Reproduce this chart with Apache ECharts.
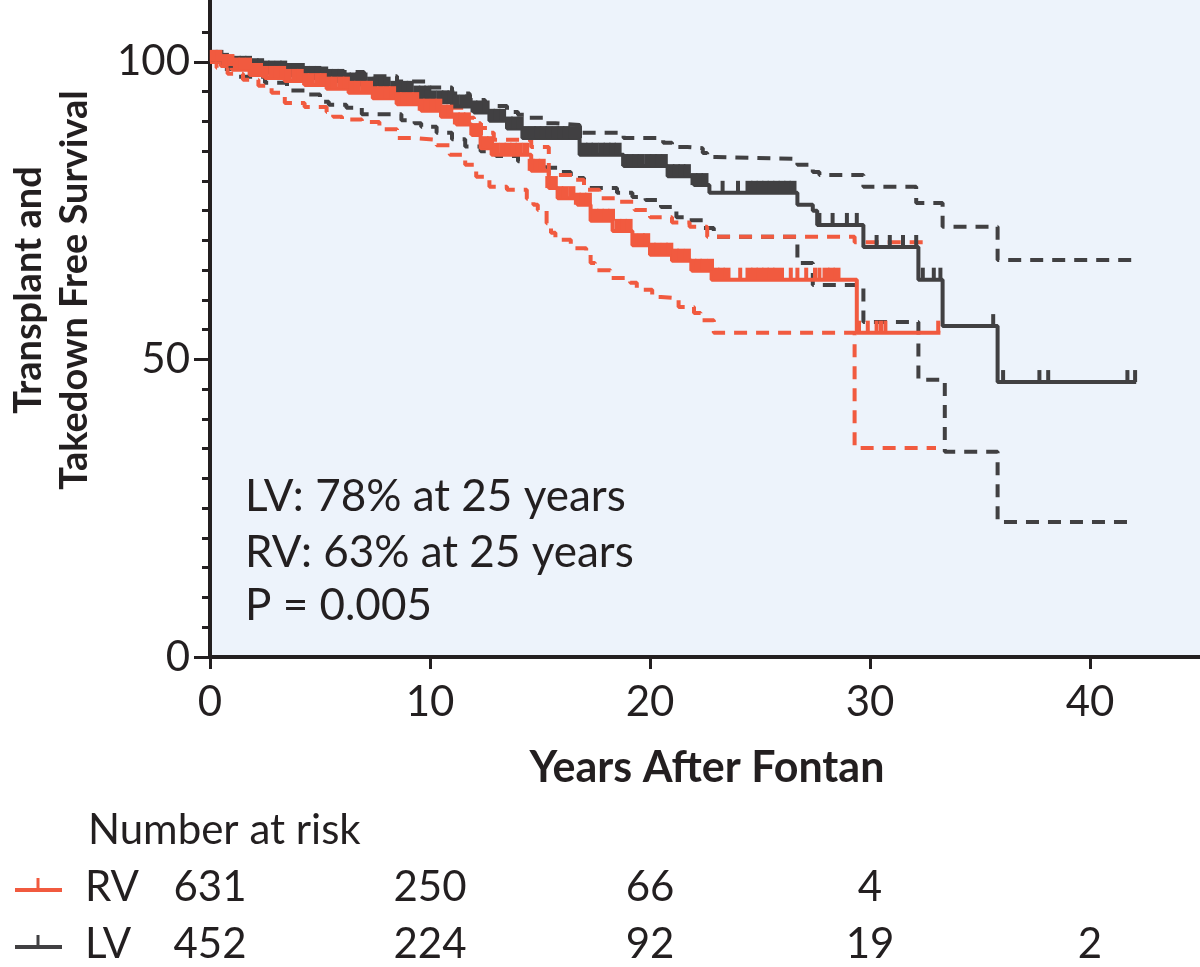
<!DOCTYPE html>
<html>
<head>
    <meta charset="utf-8">
    <title>Transplant and Takedown Free Survival</title>
    <style>
        html, body { margin: 0; padding: 0; background: #fff; }
        #container { width: 1200px; height: 967px; }
    </style>
</head>
<body>
<div id="container"></div>
<script src="https://cdn.jsdelivr.net/npm/echarts@6/dist/echarts.min.js"></script>
<script type="text/javascript">
    // ---- data: [years, survival %] step points ----
    var rvEst = [[0,100],[0.5,99.3],[1,98.7],[1.8,97.8],[2.5,97.3],[3.4,96.8],[4.3,96.1],[5.3,95.5],[6.3,94.8],[7.4,93.9],[8.5,92.9],[9.6,91.8],[10.5,90.8],[11.2,89.5],[11.9,87.7],[12.3,85.5],[12.8,84.4],[14.6,81.7],[15.4,78.8],[15.8,77.1],[16.7,76],[17.3,73.3],[18.3,71.6],[19.2,69.2],[20,67.6],[21,66.6],[21.9,64.9],[22.8,63.4],[29.4,54.5],[33.2,54.5]];
    var rvUpper = [[0,100],[1,99.6],[2,99.2],[3,98.7],[4,98.2],[5,97.7],[6,97.1],[7,96.4],[8,95.7],[9,94.9],[10,93.9],[11,92.3],[11.6,90.6],[12,89.7],[12.3,88.9],[12.6,88.1],[12.9,86.9],[14.6,85.7],[15.4,81],[16.5,80.2],[17,78.5],[17.7,77.1],[18.5,76.5],[19.3,75.1],[20,73.9],[21,73],[21.8,72.3],[22.6,70.6],[29.3,69.7],[32.6,69.7]];
    var rvLower = [[0,100],[0.3,99],[0.8,98],[1.5,97],[2.2,96],[2.8,94.8],[3.4,93.1],[4.3,92.4],[5.3,91.6],[5.6,90.8],[6,90.3],[6.9,89.9],[7.7,88.7],[8.5,87.2],[9.3,86.9],[10.3,86],[10.9,84.4],[11.6,82.7],[12.1,80.7],[12.7,79],[13.5,78.5],[14.4,77],[14.7,76],[14.9,75.1],[15.3,72.9],[15.5,71.3],[15.7,70.1],[16.4,68.7],[17.1,67.9],[17.3,66.2],[17.5,65],[18.2,63.7],[19.1,62.9],[19.4,61.7],[20.1,60.5],[20.5,60.3],[21.3,58.8],[22,57.8],[22.3,56.6],[22.9,54.5],[29.3,35.1],[33,35.1]];

    var lvEst = [[0,100],[0.5,99.5],[1,99],[1.8,98.6],[2.5,98.2],[3.5,97.8],[4.3,97.3],[5.2,96.8],[6.2,96.2],[7.2,95.5],[8.2,94.8],[9.2,94],[10,93.2],[11,92.5],[12,91.5],[12.7,90.1],[13.5,88.8],[14.2,87.2],[16.8,84.4],[18.8,82.5],[20.8,80.8],[22,79.3],[22.7,78],[26.7,76],[27.4,75],[27.6,72.6],[29.7,68.9],[32.2,63.4],[33.3,55.6],[35.8,46.2],[42.1,46.2]];
    var lvUpper = [[0,100],[1,99.7],[2.5,99.3],[4,98.9],[5.5,98.3],[7,97.6],[8.5,96.7],[10,95.7],[11,94.7],[11.8,93.6],[12.5,92.6],[13.5,91.6],[14,91.1],[14.4,90.6],[15.2,89.7],[15.7,89.4],[16.8,88.1],[18.8,87.2],[20.6,86.4],[21,85.7],[21.7,85.5],[22.4,84.7],[22.6,84],[23,83.7],[26.7,82.7],[27.4,81.5],[27.7,81],[29.7,79],[32.1,76.3],[33.3,72.3],[35.8,66.7],[42,66.7]];
    var lvLower = [[0,100],[0.5,98.8],[1.2,97.5],[2.5,96.5],[3.5,95.2],[4.5,94.5],[5,93.3],[5.4,92.8],[6.2,92.3],[6.9,91.2],[8.7,90.2],[9.3,89.7],[9.6,89.1],[10.3,88.1],[11,87],[11.6,85.8],[12.3,85],[13,84.2],[14,83.3],[15.3,82.2],[15.8,81.5],[16.4,80.5],[17,78.8],[18.5,78],[19.2,77.3],[19.8,76.8],[20.5,75.6],[21.2,73.9],[21.8,73.4],[22.4,72.1],[22.9,70.6],[26.7,66.2],[27.4,62.5],[29.7,56.3],[32.2,46.6],[33.4,34.5],[35.8,22.7],[42,22.7]];

    // censored observations (years)
    var rvCensorDense = [0.15,0.4,0.7,0.95,1.2,1.45,1.75,2.0,2.25,2.5,2.8,3.05,3.3,3.55,3.85,4.1,4.35,4.6,4.9,5.15,5.4,5.65,5.95,6.2,6.45,6.7,7.0,7.25,7.5,7.75,8.05,8.3,8.55,8.8,9.1,9.35,9.6,9.85,10.15,10.4,10.65,10.9,11.2,11.45,11.7,11.95,12.25,12.5,12.75,13.0,13.3,13.55,13.8,14.05,14.35,14.6,14.85,15.1,15.4,15.65,15.9,16.15,16.45,16.7,16.95,17.2,17.5,17.75,18.0,18.25,18.55,18.8,19.05,19.3,19.6,19.85,20.1,20.35,20.65,20.9,21.15,21.4,21.7,21.95,22.2,22.45,22.75,23.0,23.25,23.5,24.5,24.75,25.0,25.25,25.5,25.75,28.0,28.25,28.5];
    var rvCensor = [24.1,26.0,26.4,26.7,27.1,27.5,27.7,29.5,29.9,30.3,30.5,30.7,33.1];
    var lvCensorDense = [0.2,0.45,0.7,1.0,1.25,1.5,1.75,2.05,2.3,2.55,2.8,3.1,3.35,3.6,3.85,4.15,4.4,4.65,4.9,5.2,5.45,5.7,5.95,6.25,6.5,6.75,7.0,7.3,7.55,7.8,8.05,8.35,8.6,8.85,9.1,9.4,9.65,9.9,10.15,10.45,10.7,10.95,11.2,11.5,11.75,12.0,12.25,12.55,12.8,13.05,13.3,13.6,13.85,14.1,14.35,14.65,14.9,15.15,15.4,15.7,15.95,16.2,16.45,16.75,17.0,17.25,17.5,17.8,18.05,18.3,18.55,18.85,19.1,19.35,19.6,19.9,20.15,20.4,20.65,20.95,21.2,21.45,21.7,22.0,22.25,22.5,24.5,24.75,25.0,25.25,25.5,25.75,26.0,26.25,26.5];
    var lvCensor = [23.3,24.0,27.7,28.3,28.95,29.4,30.3,30.9,31.5,32.1,32.4,32.9,33.2,35.6,36.05,37.7,38.1,41.7,42.05];

    // numbers at risk
    var riskYears = [0, 10, 20, 30, 40];
    var rvRisk = [631, 250, 66, 4];
    var lvRisk = [452, 224, 92, 19, 2];

    // axis ticks
    var xTicks = [0, 10, 20, 30, 40];
    var yMajor = [0, 50, 100];
    var yMinor = [5, 10, 15, 20, 25, 30, 35, 40, 45, 55, 60, 65, 70, 75, 80, 85, 90, 95, 105];

    var RED = '#F15A3F';
    var GRAY = '#414042';
    var INK = '#231F20';
    var FONT = 'Lato, "Noto Sans", sans-serif';

    function stepAt(curve, t) {
        var v = curve[0][1];
        for (var i = 0; i < curve.length; i++) {
            if (curve[i][0] <= t) v = curve[i][1];
            else break;
        }
        return v;
    }
    function marks(curve, times) {
        return times.map(function (t) { return [t, stepAt(curve, t)]; });
    }
    function stepLine(data, color, dashed, width) {
        return {
            type: 'line', data: data, step: 'end', showSymbol: false, symbol: 'none',
            lineStyle: {color: color, width: width, type: dashed ? [13, 9] : 'solid'},
            silent: true, z: dashed ? 2 : 3
        };
    }
    function censorSeries(data, color, w) {
        return {
            type: 'scatter', data: data, symbol: 'rect', symbolSize: [w, 12],
            symbolOffset: [0, -6], itemStyle: {color: color, opacity: 1}, silent: true, z: 4
        };
    }

    var myChart = echarts.init(document.getElementById('container'));

    var option = {
        animation: false,
        grid: {
            left: 210, right: 0, top: 0, bottom: 310,
            show: true, backgroundColor: '#EDF3FB', borderWidth: 0
        },
        xAxis: {
            type: 'value', min: 0, max: 45, interval: 10,
            axisLine: {lineStyle: {color: INK, width: 4}},
            axisTick: {customValues: xTicks, length: 12, lineStyle: {color: INK, width: 3}},
            axisLabel: {customValues: xTicks, margin: 24, fontSize: 42, fontFamily: FONT, color: INK},
            splitLine: {show: false}
        },
        yAxis: [
            {
                type: 'value', min: 0, max: 110.4,
                axisLine: {show: true, lineStyle: {color: INK, width: 4}},
                axisTick: {show: true, customValues: yMajor, length: 16, lineStyle: {color: INK, width: 3}},
                axisLabel: {customValues: yMajor, margin: 20, fontSize: 42, fontFamily: FONT, color: INK},
                splitLine: {show: false}
            },
            {
                type: 'value', min: 0, max: 110.4, position: 'left',
                axisLine: {show: false},
                axisTick: {show: true, customValues: yMinor, length: 8, lineStyle: {color: INK, width: 3}},
                axisLabel: {show: false},
                splitLine: {show: false}
            }
        ],
        series: [
            stepLine(lvUpper, GRAY, true, 4),
            stepLine(lvLower, GRAY, true, 4),
            stepLine(lvEst, GRAY, false, 4),
            censorSeries(marks(lvEst, lvCensorDense), GRAY, 7),
            censorSeries(marks(lvEst, lvCensor), GRAY, 4),
            stepLine(rvUpper, RED, true, 4),
            stepLine(rvLower, RED, true, 4),
            stepLine(rvEst, RED, false, 4),
            censorSeries(marks(rvEst, rvCensorDense), RED, 7),
            censorSeries(marks(rvEst, rvCensor), RED, 4)
        ]
    };
    myChart.setOption(option);

    // texts: annotation, axis names, numbers at risk
    var txt = function (x, y, s, opt) {
        opt = opt || {};
        return {
            type: 'text', x: x, y: y, rotation: opt.rotation || 0, z: 100,
            style: {
                text: s, fill: INK, align: opt.align || 'left', verticalAlign: 'middle',
                font: (opt.weight || 'normal') + ' ' + (opt.size || 42) + 'px ' + FONT,
                lineHeight: opt.lineHeight
            }
        };
    };
    var g = [
        txt(245, 497, 'LV: 78% at 25 years', {size: 44}),
        txt(245, 553, 'RV: 63% at 25 years', {size: 44}),
        txt(245, 606, 'P = 0.005', {size: 44}),
        txt(707, 768, 'Years After Fontan', {weight: 'bold', size: 43, align: 'center'}),
        txt(52, 290, 'Transplant and\nTakedown Free Survival', {weight: 'bold', size: 38, align: 'center', rotation: Math.PI / 2, lineHeight: 46}),
        txt(88, 830, 'Number at risk', {size: 42}),
        txt(85, 887, 'RV', {size: 42}),
        txt(85, 944, 'LV', {size: 42}),
        {type: 'line', shape: {x1: 15, y1: 890, x2: 62, y2: 890}, style: {stroke: RED, lineWidth: 4}},
        {type: 'line', shape: {x1: 38, y1: 878, x2: 38, y2: 890}, style: {stroke: RED, lineWidth: 3}},
        {type: 'line', shape: {x1: 15, y1: 947, x2: 62, y2: 947}, style: {stroke: GRAY, lineWidth: 4}},
        {type: 'line', shape: {x1: 38, y1: 935, x2: 38, y2: 947}, style: {stroke: GRAY, lineWidth: 3}}
    ];
    rvRisk.forEach(function (n, i) {
        var px = myChart.convertToPixel({xAxisIndex: 0}, riskYears[i]);
        g.push(txt(px, 887, String(n), {size: 42, align: 'center'}));
    });
    lvRisk.forEach(function (n, i) {
        var px = myChart.convertToPixel({xAxisIndex: 0}, riskYears[i]);
        g.push(txt(px, 944, String(n), {size: 42, align: 'center'}));
    });
    myChart.setOption({graphic: g});
</script>
</body>
</html>
